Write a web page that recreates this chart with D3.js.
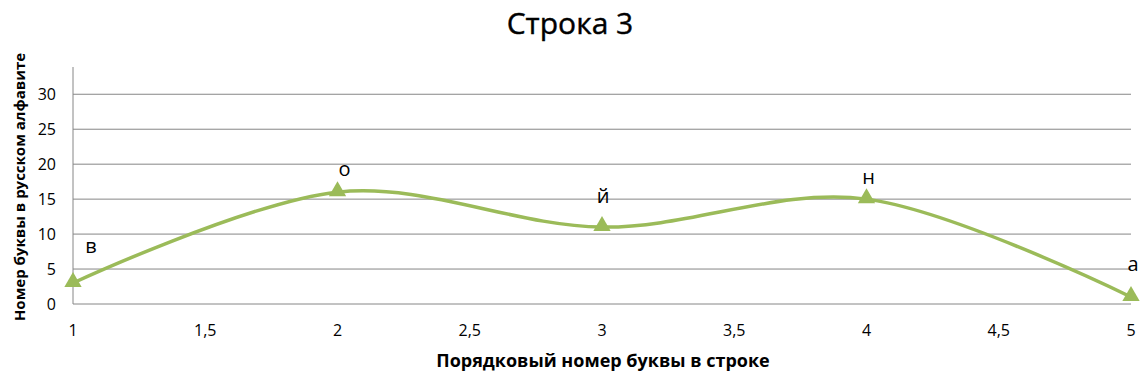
<!DOCTYPE html>
<html>
<head>
<meta charset="utf-8">
<script src="https://cdn.jsdelivr.net/npm/d3@7"></script>
<style>
  body { margin: 0; background: #fff; }
  svg text { font-family: "Open Sans", "Liberation Sans", sans-serif; fill: #000; }
</style>
</head>
<body>
<svg id="chart" width="1146" height="385"></svg>
<script>
// letter positions in the word and their numbers in the alphabet
const positions = [1, 2, 3, 4, 5];
const letters = ['в', 'о', 'й', 'н', 'а'];
const alphabetNumbers = [3, 16, 11, 15, 1];
const xTicks = [1, 1.5, 2, 2.5, 3, 3.5, 4, 4.5, 5];
const yTicks = [0, 5, 10, 15, 20, 25, 30];

const svg = d3.select('#chart');
const plotLeft = 73, plotRight = 1131, plotTop = 67, plotBottom = 304;

const x = d3.scaleLinear().domain([1, 5]).range([plotLeft, plotRight]);
const y = d3.scaleLinear().domain([0, 33.9]).range([plotBottom, plotTop]);

const green = '#9bbb59';

// title
svg.append('text')
  .attr('x', 570).attr('y', 34)
  .attr('text-anchor', 'middle')
  .attr('font-size', 30)
  .attr('stroke', '#000').attr('stroke-width', 0.4)
  .text('Строка 3');

// gridlines
svg.append('g')
  .selectAll('line')
  .data(yTicks)
  .join('line')
  .attr('x1', plotLeft).attr('x2', plotRight)
  .attr('y1', d => y(d)).attr('y2', d => y(d))
  .attr('stroke', '#868686')
  .attr('stroke-width', 1);

// y axis line
svg.append('line')
  .attr('x1', plotLeft).attr('x2', plotLeft)
  .attr('y1', plotTop).attr('y2', plotBottom)
  .attr('stroke', '#868686');

// y tick labels
svg.append('g')
  .selectAll('text')
  .data(yTicks)
  .join('text')
  .attr('x', 56)
  .attr('y', d => y(d))
  .attr('dy', '0.35em')
  .attr('text-anchor', 'end')
  .attr('font-size', 16)
  .text(d => d);

// x tick labels
const fmt = d => String(d).replace('.', ',');
svg.append('g')
  .selectAll('text')
  .data(xTicks)
  .join('text')
  .attr('x', d => x(d))
  .attr('y', 336)
  .attr('text-anchor', 'middle')
  .attr('font-size', 16)
  .text(fmt);

// axis titles
svg.append('text')
  .attr('x', 603).attr('y', 367)
  .attr('text-anchor', 'middle')
  .attr('font-size', 18)
  .attr('font-weight', 'bold')
  .text('Порядковый номер буквы в строке');

svg.append('text')
  .attr('transform', 'translate(25,' + 187 + ') rotate(-90)')
  .attr('text-anchor', 'middle')
  .attr('font-size', 15)
  .attr('font-weight', 'bold')
  .text('Номер буквы в русском алфавите');

// smoothed line
const pts = positions.map((p, i) => [p, alphabetNumbers[i]]);
const line = d3.line()
  .x(d => x(d[0]))
  .y(d => y(d[1]))
  .curve(d3.curveCardinal.tension(0));

svg.append('path')
  .datum(pts)
  .attr('d', line)
  .attr('fill', 'none')
  .attr('stroke', green)
  .attr('stroke-width', 3.5);

// triangle markers
const tri = d3.symbol().type(d3.symbolTriangle).size(130);
svg.append('g')
  .selectAll('path')
  .data(pts)
  .join('path')
  .attr('d', tri)
  .attr('transform', d => `translate(${x(d[0])},${y(d[1]) - 1})`)
  .attr('fill', green);

// letter labels
const labelOffsets = [[18, -30], [7, -16], [1, -24], [2, -15], [2, -26]];
svg.append('g')
  .selectAll('text')
  .data(pts)
  .join('text')
  .attr('x', (d, i) => x(d[0]) + labelOffsets[i][0])
  .attr('y', (d, i) => y(d[1]) + labelOffsets[i][1])
  .attr('text-anchor', 'middle')
  .attr('font-size', 20)
  .text((d, i) => letters[i]);
</script>
</body>
</html>
